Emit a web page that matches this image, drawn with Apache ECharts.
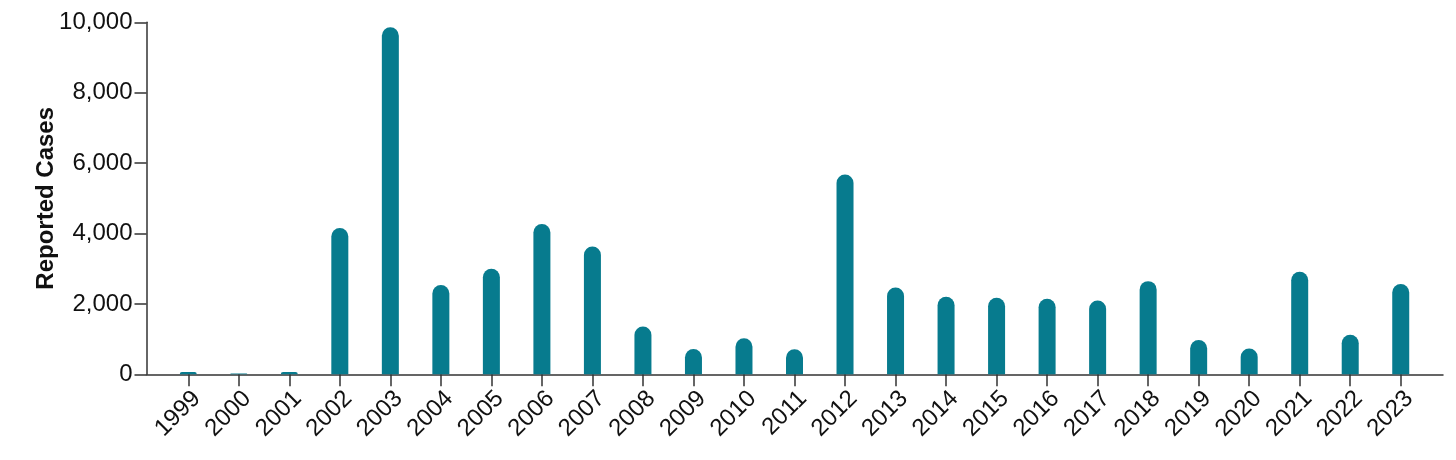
<!DOCTYPE html>
<html><head><meta charset="utf-8">
<script src="https://cdn.jsdelivr.net/npm/echarts@6/dist/echarts.min.js"></script>
<style>html,body{margin:0;padding:0;background:#fff}#c{width:1456px;height:460px}</style>
</head><body><div id="c"></div>
<script>
const years = ['1999','2000','2001','2002','2003','2004','2005','2006','2007','2008','2009','2010','2011','2012','2013','2014','2015','2016','2017','2018','2019','2020','2021','2022','2023'];
const cases = [62,21,66,4156,9862,2539,3000,4269,3630,1356,720,1021,712,5674,2469,2205,2175,2149,2097,2647,971,731,2911,1126,2566];
const yTicks = [0,2000,4000,6000,8000,10000];

const font = '"Liberation Sans", Arial, Helvetica, sans-serif';
const axisColor = '#333';
const chart = echarts.init(document.getElementById('c'), null, {renderer:'canvas'});
chart.setOption({
  animation:false,
  grid:[
    {left:146.5, right:13, top:22.3, bottom:85.7},
    {left:163, right:30, top:22.3, bottom:85.7}
  ],
  xAxis:[
    {gridIndex:0, type:'value', min:0, max:1, axisLine:{show:true, lineStyle:{color:axisColor,width:1.5}},
     axisTick:{show:false}, axisLabel:{show:false}, splitLine:{show:false}},
    {gridIndex:1, type:'category', data:years, boundaryGap:true,
     axisLine:{show:false}, axisTick:{show:true, alignWithLabel:true, length:12, lineStyle:{color:axisColor,width:1.5}},
     axisLabel:{rotate:45, fontSize:24, fontFamily:font, color:'#111', margin:12, align:'right', verticalAlign:'top', interval:0}}
  ],
  yAxis:[
    {gridIndex:0, type:'value', min:yTicks[0], max:yTicks[yTicks.length-1], interval:2000,
     axisLine:{show:true, lineStyle:{color:axisColor,width:1.5}},
     axisTick:{show:true, length:12, lineStyle:{color:axisColor,width:1.5}},
     axisLabel:{fontSize:24, fontFamily:font, color:'#111', margin:14,
       formatter:v=>v.toLocaleString('en-US')},
     splitLine:{show:false},
     name:'Reported Cases', nameLocation:'middle', nameGap:88, nameRotate:90, nameMoveOverlap:false,
     nameTextStyle:{fontSize:24, fontWeight:'bold', fontFamily:font, color:'#111'}},
    {gridIndex:1, type:'value', min:0, max:10000, show:false, splitLine:{show:false}}
  ],
  series:[{
    type:'bar', xAxisIndex:1, yAxisIndex:1, data:cases, barWidth:17,
    itemStyle:{color:'#077b8e', borderRadius:[8.5,8.5,0,0]}
  }]
});
</script></body></html>
